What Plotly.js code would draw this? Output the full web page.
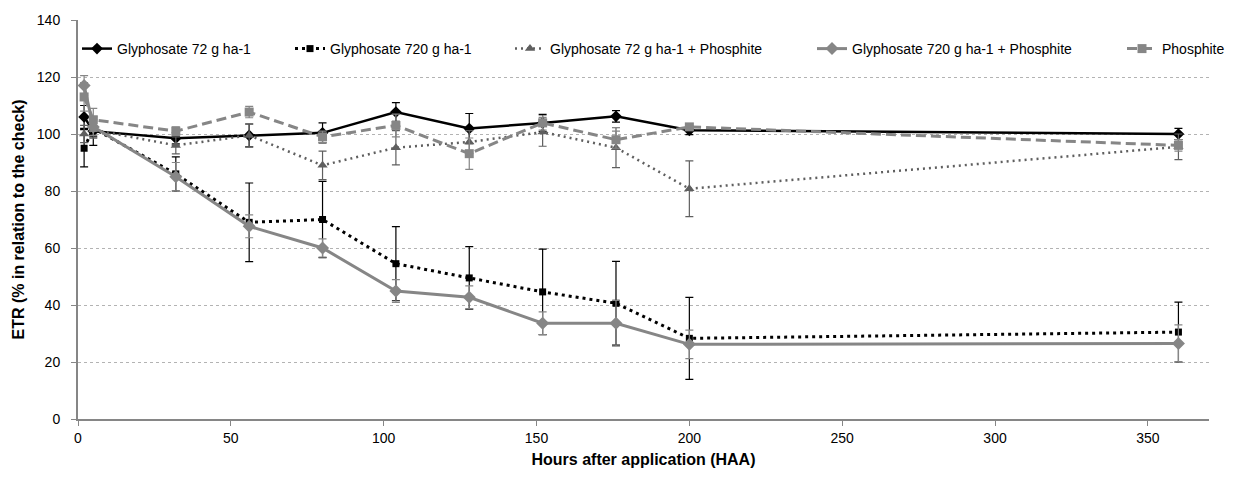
<!DOCTYPE html>
<html>
<head>
<meta charset="utf-8">
<script src="https://cdn.plot.ly/plotly-3.0.1.min.js"></script>
<style>html,body{margin:0;padding:0;background:#fff;}#chart{width:1241px;height:477px;}</style>
</head>
<body>
<div id="chart"></div>
<script>
// Hours after application (HAA)
const hours = [2, 5, 32, 56, 80, 104, 128, 152, 176, 200, 360];

const seriesNames = [
  "Glyphosate 72 g ha-1",
  "Glyphosate 720 g ha-1",
  "Glyphosate 72 g ha-1 + Phosphite",
  "Glyphosate 720 g ha-1 + Phosphite",
  "Phosphite"
];

// ETR (% in relation to the check)
const gly72      = [106, 101, 98.5, 99.5, 100.4, 107.7, 101.9, 103.9, 106.2, 101.3, 100];
const gly72Err   = [4, 5, 2, 4, 3.5, 3.3, 5.3, 3, 2, 1.5, 2];
const gly720     = [95, 102, 86, 69, 70, 54.5, 49.5, 44.6, 40.6, 28.3, 30.5];
const gly720Err  = [6.5, 3, 6, 13.8, 13.4, 13, 11, 15, 14.7, 14.4, 10.5];
const gly72P     = [100, 101.5, 96, 99.5, 89, 95.2, 97.2, 100.7, 95.2, 80.8, 95.5];
const gly72PErr  = [3, 3, 3, 4, 5, 6, 4, 5, 7, 9.8, 4.5];
const gly720P    = [117, 102.5, 85, 67.6, 60, 44.9, 42.7, 33.6, 33.6, 26.2, 26.5];
const gly720PErr = [3.5, 3, 5, 4, 3.2, 4, 4, 4, 8, 5, 6.5];
const phos       = [113, 105, 101, 107.7, 99, 103, 93.1, 103.9, 98, 102.5, 96];
const phosErr    = [5, 4, 1.5, 2, 2, 4, 5.5, 2.5, 3, 1, 2];

const yTicks = [0, 20, 40, 60, 80, 100, 120, 140];
const xTicks = [0, 50, 100, 150, 200, 250, 300, 350];

function mk(name, y, err, color, dash, width, symbol, msize, legendId) {
  return {
    type: 'scatter', mode: 'lines+markers', name: name, x: hours, y: y,
    line: {color: color, dash: dash, width: width},
    marker: {symbol: symbol, size: msize, color: color},
    error_y: {type: 'data', array: err, visible: true, color: color, thickness: 1.2, width: 4},
    legend: legendId, cliponaxis: false
  };
}

const traces = [
  mk(seriesNames[0], gly72,   gly72Err,   '#000000', 'solid', 2.5, 'diamond', 9, 'legend'),
  mk(seriesNames[1], gly720,  gly720Err,  '#000000', '3px,4px', 3, 'square', 7, 'legend2'),
  mk(seriesNames[2], gly72P,  gly72PErr,  '#5f5f5f', '2px,4px', 2.5, 'triangle-up', 9, 'legend3'),
  mk(seriesNames[3], gly720P, gly720PErr, '#868686', 'solid', 3, 'diamond', 10, 'legend4'),
  mk(seriesNames[4], phos,    phosErr,    '#868686', '10px,5px', 3, 'square', 9, 'legend5')
];

const L = 78, R = 1210, T = 20, B = 419;
// left edge (px) of each legend entry; text starts 40px later
const legendPx = [77, 290, 510, 812, 1122];
const legFont = {family: 'Liberation Sans, Arial, sans-serif', size: 14, color: '#000'};
function leg(px) {
  return {x: (px - L) / (R - L), y: (B - 49) / (B - T), xanchor: 'left', yanchor: 'middle',
          orientation: 'h', bgcolor: 'rgba(0,0,0,0)', font: legFont, borderwidth: 0};
}

const layout = {
  width: 1241, height: 477,
  margin: {l: L, r: 1241 - R, t: T, b: 477 - B},
  paper_bgcolor: '#fff', plot_bgcolor: '#fff',
  font: {family: 'Liberation Sans, Arial, sans-serif', size: 14, color: '#000'},
  xaxis: {
    range: [0, 370], tickvals: xTicks, ticktext: xTicks.map(String),
    showgrid: false, zeroline: false,
    showline: true, linecolor: '#868686', linewidth: 2,
    ticks: 'outside', ticklen: 5, tickcolor: '#868686',
    tickfont: {family: 'Liberation Sans, Arial, sans-serif', size: 14, color: '#000'},
    title: {text: 'Hours after application (HAA)', standoff: 9,
            font: {family: 'Liberation Sans Narrow, Arial Narrow, sans-serif', size: 16, color: '#000', weight: 'bold'}}
  },
  yaxis: {
    range: [0, 140], tickvals: yTicks, ticktext: yTicks.map(String),
    showgrid: true, gridcolor: '#b3b3b3', griddash: 'dot', gridwidth: 1,
    zeroline: false,
    showline: true, linecolor: '#868686', linewidth: 2,
    ticks: 'outside', ticklen: 5, tickcolor: '#868686', ticklabelstandoff: 8,
    tickfont: {family: 'Liberation Sans, Arial, sans-serif', size: 14, color: '#000'},
    title: {text: 'ETR (% in relation to the check)', standoff: 8,
            font: {family: 'Liberation Sans Narrow, Arial Narrow, sans-serif', size: 16, color: '#000', weight: 'bold'}}
  },
  showlegend: true,
  legend: leg(legendPx[0]),
  legend2: leg(legendPx[1]),
  legend3: leg(legendPx[2]),
  legend4: leg(legendPx[3]),
  legend5: leg(legendPx[4])
};

Plotly.newPlot('chart', traces, layout, {displayModeBar: false, staticPlot: true});
</script>
</body>
</html>
